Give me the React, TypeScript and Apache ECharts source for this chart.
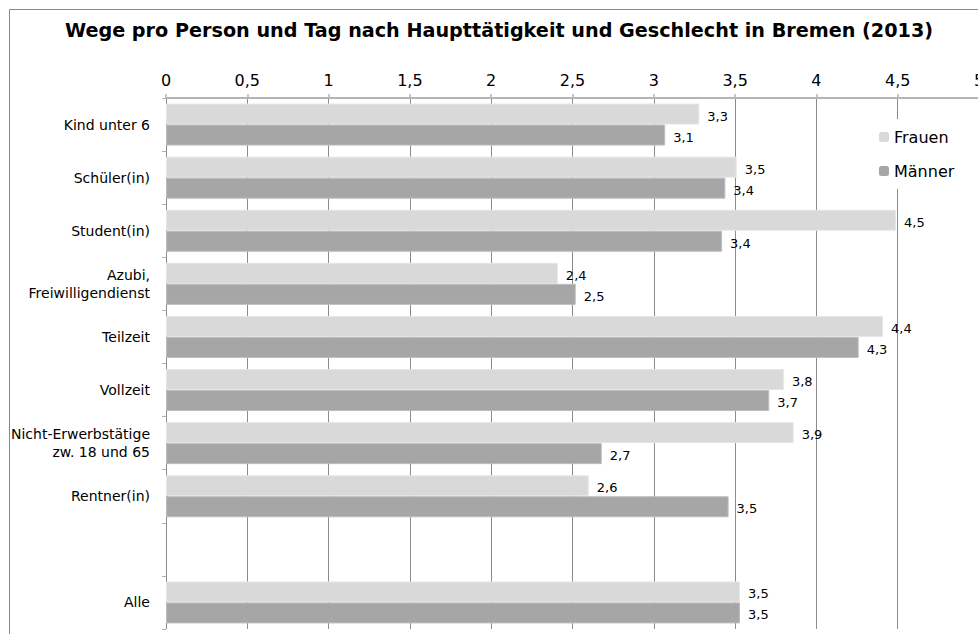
import React, { useEffect, useRef } from "react";
import * as echarts from "echarts";

const TITLE = "Wege pro Person und Tag nach Haupttätigkeit und Geschlecht in Bremen (2013)";
const categories = [
  "Kind unter 6",
  "Schüler(in)",
  "Student(in)",
  "Azubi,\nFreiwilligendienst",
  "Teilzeit",
  "Vollzeit",
  "Nicht-Erwerbstätige\nzw. 18 und 65",
  "Rentner(in)",
  "",
  "Alle",
];
const frauen: (number | null)[] = [3.28, 3.51, 4.49, 2.41, 4.41, 3.8, 3.86, 2.6, null, 3.53];
const maenner: (number | null)[] = [3.07, 3.44, 3.42, 2.52, 4.26, 3.71, 2.68, 3.46, null, 3.53];
const xTicks = [0, 0.5, 1, 1.5, 2, 2.5, 3, 3.5, 4, 4.5, 5];

const FONT = "DejaVu Sans";
const fmt = (v: number) => v.toFixed(1).replace(".", ",");

export default function App() {
  const ref = useRef<HTMLDivElement>(null);
  useEffect(() => {
    if (!ref.current) return;
    const chart = echarts.init(ref.current, undefined, { renderer: "svg" });
    const labelCfg = {
      show: true,
      position: "right",
      distance: 8,
      offset: [0, 2],
      fontFamily: FONT,
      fontSize: 13,
      color: "#000",
      formatter: (p: any) => fmt(p.value),
    };
    chart.setOption({
      animation: false,
      backgroundColor: "#fff",
      textStyle: { fontFamily: FONT },
      graphic: [
        {
          type: "rect",
          shape: { x: 9.5, y: 9.5, width: 1100, height: 1100 },
          style: { fill: "none", stroke: "#888", lineWidth: 1 },
          silent: true,
          z: -10,
        },
        {
          type: "text",
          x: 499,
          y: 30,
          style: {
            text: TITLE,
            fontFamily: FONT,
            fontSize: 19.2,
            fontWeight: "bold",
            fill: "#000",
            textAlign: "center",
            textVerticalAlign: "middle",
          },
        },
      ],
      legend: {
        orient: "vertical",
        left: 869,
        top: 119,
        padding: [10, 10, 10, 10],
        backgroundColor: "#fff",
        itemWidth: 10,
        itemHeight: 10,
        itemGap: 18,
        itemStyle: { borderWidth: 0 },
        textStyle: { fontFamily: FONT, fontSize: 16, color: "#000" },
        data: ["Frauen", "Männer"],
        z: 10,
      },
      grid: {
        left: 166,
        top: 98,
        width: 813,
        height: 531,
        containLabel: false,
        outerBoundsMode: "none",
      },
      xAxis: {
        type: "value",
        position: "top",
        min: 0,
        max: 5,
        interval: 0.5,
        axisLine: { show: true, lineStyle: { color: "#b4b4b4", width: 2 } },
        axisTick: { show: true, length: 4, lineStyle: { color: "#b4b4b4", width: 1.5 } },
        splitLine: { show: true, lineStyle: { color: "#8c8c8c", width: 1 } },
        axisLabel: {
          margin: 10,
          fontFamily: FONT,
          fontSize: 16,
          color: "#000",
          formatter: (v: number) => (xTicks.includes(v) ? String(v).replace(".", ",") : ""),
        },
      },
      yAxis: {
        type: "category",
        inverse: true,
        data: categories,
        axisLine: { show: false },
        axisTick: { show: true, length: 4, lineStyle: { color: "#b4b4b4" } },
        splitLine: { show: false },
        axisLabel: {
          margin: 16,
          fontFamily: FONT,
          fontSize: 14,
          color: "#000",
          lineHeight: 18,
          align: "right",
        },
      },
      series: [
        {
          name: "Frauen",
          type: "bar",
          data: frauen,
          barWidth: 21,
          barGap: "0%",
          itemStyle: { color: "#d9d9d9", borderColor: "#e6e6e6", borderWidth: 1 },
          label: labelCfg,
          z: 3,
        },
        {
          name: "Männer",
          type: "bar",
          data: maenner,
          barWidth: 21,
          barGap: "0%",
          itemStyle: { color: "#a6a6a6", borderColor: "#bdbdbd", borderWidth: 1 },
          label: labelCfg,
          z: 3,
        },
      ],
    });
    return () => chart.dispose();
  }, []);
  return (
    <div style={{ position: "fixed", left: 0, top: 0, width: 978, height: 634, overflow: "hidden" }}>
      <div ref={ref} style={{ width: 978, height: 634 }} />
    </div>
  );
}
